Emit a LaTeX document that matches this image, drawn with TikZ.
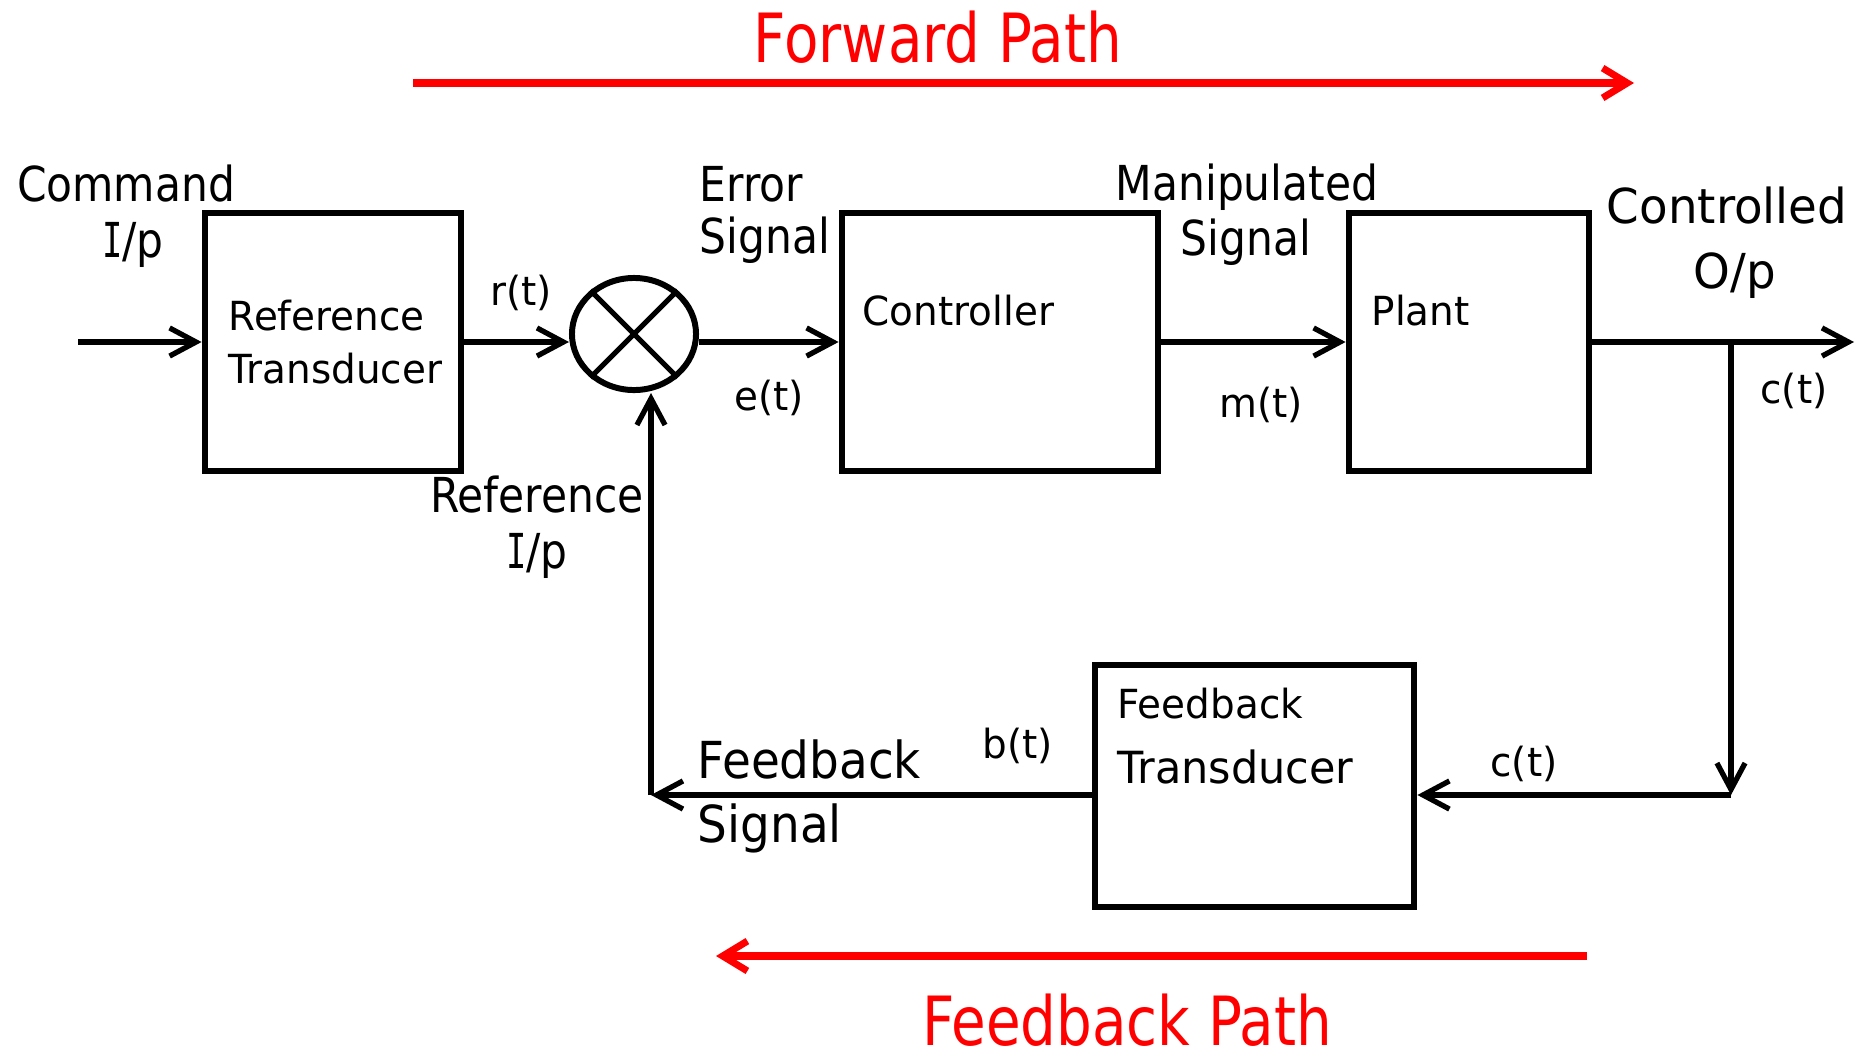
\documentclass[tikz,border=0pt]{standalone}
\usepackage{fontspec}
\setmainfont{DejaVu Sans}
\newfontfamily\fA[FakeStretch=0.97]{DejaVu Sans}
\newfontfamily\fB[FakeStretch=0.88]{DejaVu Sans}
\newfontfamily\fD[FakeStretch=0.92]{DejaVu Sans}
\newfontfamily\fC[FakeStretch=0.83]{DejaVu Sans}
\newfontfamily\fI[FakeStretch=0.7]{DejaVu Sans Mono}
\usetikzlibrary{arrows.meta,shapes.geometric}
\newcommand\Ip{{\fI I}/p}
\definecolor{pathred}{RGB}{255,0,0}
\tikzset{
  blk/.style={draw, line width=1.9pt, inner sep=0pt},
  wire/.style={line width=1.5pt},
  conn/.style={line width=1.5pt, -{Straight Barb[length=7.5pt,width=8pt]}},
  redarrow/.style={draw=pathred, line width=2pt, -{Straight Barb[length=7pt,width=8.5pt]}},
  blocktxt/.style={inner sep=0pt, anchor=base west, font=\fA\fontsize{11.4pt}{13pt}\selectfont},
  sigtxt/.style={inner sep=0pt, anchor=base, font=\fA\fontsize{11.4pt}{13pt}\selectfont},
  bigtxt/.style={inner sep=0pt, anchor=base, font=\fB\fontsize{13.7pt}{16pt}\selectfont},
  fbtxt/.style={inner sep=0pt, anchor=base west, font=\fD\fontsize{14.5pt}{17pt}\selectfont},
  outtxt/.style={inner sep=0pt, anchor=base, font=\fA\fontsize{13.7pt}{16pt}\selectfont},
  titletxt/.style={inner sep=0pt, anchor=base, text=pathred, font=\fC\fontsize{19.3pt}{22pt}\selectfont}
}
\begin{document}
\begin{tikzpicture}[x=0.01cm, y=-0.01cm]
\useasboundingbox (0,0) rectangle (1857,1054);

% blocks
\node[blk, minimum width=2.56cm, minimum height=2.58cm] (rt) at (333,342) {};
\node[blk, minimum width=3.16cm, minimum height=2.58cm] (ctrl) at (1000,342) {};
\node[blk, minimum width=2.40cm, minimum height=2.58cm] (plant) at (1469,342) {};
\node[blk, minimum width=3.19cm, minimum height=2.42cm] (ft) at (1254.5,786) {};

% summing junction
\node[draw, ellipse, line width=1.7pt, minimum width=1.24cm, minimum height=1.12cm, inner sep=0pt] (sum) at (634,334) {};
\draw[wire] (sum.135) -- (sum.-45);
\draw[wire] (sum.45) -- (sum.-135);

% block labels
\node[blocktxt] (rt1) at (228,330) {Reference};
\node[blocktxt] (rt2) at (228,383) {Transducer};
\node[blocktxt] (ctrlT) at (862,325) {Controller};
\node[blocktxt] (plantT) at (1371,325) {Plant};
\node[blocktxt] (ft1) at (1117,718) {Feedback};
\node[blocktxt, font=\fA\fontsize{12.6pt}{14pt}\selectfont] (ft2) at (1117,783) {Transducer};

% forward connections
\coordinate (in) at (78,342);
\coordinate (out) at (1854,342);
\coordinate (br) at (1731,342);
\coordinate (dn) at (1731,795);
\coordinate (fb) at (651,795);
\draw[conn] (in) -- (rt.west);
\draw[conn] (rt.east) -- (rt.east -| sum.west);
\draw[conn] (ctrl.west -| sum.east) -- (ctrl.west);
\draw[conn] (ctrl.east) -- (plant.west);
\draw[conn] (plant.east) -- (out);

% feedback connections
\draw[conn] (br) -- (dn);
\draw[conn] (dn) -- (dn -| ft.east);
\draw[conn] (dn -| ft.west) -- (fb);
\draw[conn] (fb) -- (fb |- sum.south);

% signal names
\node[sigtxt] (rsig) at (521,305) {r(t)};
\node[sigtxt] (esig) at (769,410) {e(t)};
\node[sigtxt] (msig) at (1261,417) {m(t)};
\node[sigtxt] (csig1) at (1794,403) {c(t)};
\node[sigtxt] (csig2) at (1524,776) {c(t)};
\node[sigtxt] (bsig) at (1018,758) {b(t)};

% descriptive labels
\node[bigtxt] (cmd1) at (126,201) {Command};
\node[bigtxt] (cmd2) at (133,257) {\Ip};
\node[bigtxt, anchor=base west] (err1) at (699,201) {Error};
\node[bigtxt, anchor=base west] (err2) at (699,253) {Signal};
\node[bigtxt] (man1) at (1247,200) {Manipulated};
\node[bigtxt] (man2) at (1246,255) {Signal};
\node[outtxt] (co1) at (1727,223) {Controlled};
\node[outtxt] (co2) at (1735,288) {O/p};
\node[bigtxt] (ref1) at (537,512) {Reference};
\node[bigtxt] (ref2) at (537,568) {\Ip};
\node[fbtxt] (fbs1) at (697,778) {Feedback};
\node[fbtxt] (fbs2) at (697,842) {Signal};

% path arrows and titles
\coordinate (fwdS) at (413,83);
\coordinate (fwdE) at (1634,83);
\coordinate (fbS) at (1587,956);
\coordinate (fbE) at (716,956);
\draw[redarrow] (fwdS) -- (fwdE);
\draw[redarrow] (fbS) -- (fbE);
\node[titletxt] (fwdT) at (938,62) {Forward Path};
\node[titletxt] (fbT) at (1127,1045) {Feedback Path};
\end{tikzpicture}
\end{document}
